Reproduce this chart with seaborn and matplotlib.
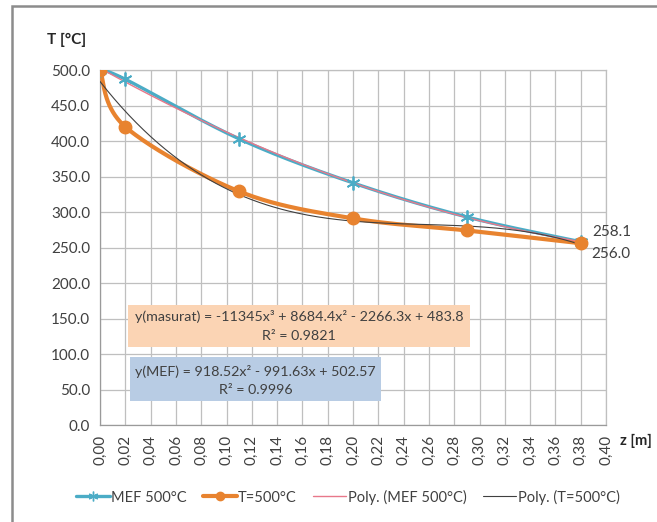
import numpy as np
import pandas as pd
import matplotlib
matplotlib.use("Agg")
import matplotlib.pyplot as plt
from matplotlib.patches import Rectangle
from matplotlib.lines import Line2D
import seaborn as sns

# Measured depths and temperatures
z = [0.00, 0.02, 0.11, 0.20, 0.29, 0.38]
t_mef = [500.0, 487.0, 403.0, 341.0, 293.0, 258.1]
t_meas = [500.0, 420.0, 329.0, 291.0, 274.0, 256.0]

# Polynomial trendline coefficients (highest power first)
coef_mef = [918.52, -991.63, 502.57]
coef_meas = [-11345.0, 8684.4, -2266.3, 483.8]

x_ticks = np.round(np.arange(0, 0.401, 0.02), 2)
y_ticks = np.arange(0, 501, 50)

C_MEF = "#4BACC6"
C_MEAS = "#E8832F"
C_POLY_MEF = "#E8788A"
C_POLY_MEAS = "#404040"
C_GRID = "#BFBFBF"
C_TEXT = "#404040"
FS = 11
FS_BOX = 10.3

sns.set_theme(style="white")
plt.rcParams["font.family"] = ["Lato", "DejaVu Sans"]


def smooth(xs, ys, n=40):
    """Bezier smoothing through the points (spreadsheet-style smoothed line)."""
    p = np.column_stack([xs, ys]).astype(float)
    ext = np.vstack([p[0], p, p[-1]])
    out = []
    t = np.linspace(0, 1, n)[:, None]
    for i in range(1, len(ext) - 2):
        p0, p1, p2, p3 = ext[i - 1], ext[i], ext[i + 1], ext[i + 2]
        c1 = p1 + (p2 - p0) / 6.0
        c2 = p2 - (p3 - p1) / 6.0
        seg = ((1 - t) ** 3) * p1 + 3 * ((1 - t) ** 2) * t * c1 + 3 * (1 - t) * t ** 2 * c2 + t ** 3 * p2
        out.append(seg if i == 1 else seg[1:])
    s = np.vstack(out)
    return s[:, 0], s[:, 1]


fig = plt.figure(figsize=(6.57, 5.22), dpi=100)
ax = fig.add_axes([0.1522, 0.1858, 0.7702, 0.6801])

# outer chart frame
fig.patches.append(Rectangle((12 / 657, -0.05), 1.2, 1 - 6 / 522 + 0.05, transform=fig.transFigure,
                             fill=False, edgecolor="#8C8C8C", linewidth=1.8, zorder=0))

# smoothed series lines
sx, sy = smooth(z, t_mef)
sns.lineplot(x=sx, y=sy, ax=ax, color=C_MEF, linewidth=2.4, sort=False, zorder=3)
sx2, sy2 = smooth(z, t_meas)
sns.lineplot(x=sx2, y=sy2, ax=ax, color=C_MEAS, linewidth=3.0, sort=False, zorder=4)

# polynomial trendlines
zz = np.linspace(z[0], z[-1], 200)
df_poly = pd.DataFrame({"z": zz,
                        "mef": np.polyval(coef_mef, zz),
                        "meas": np.polyval(coef_meas, zz)})
sns.lineplot(data=df_poly, x="z", y="mef", ax=ax, color=C_POLY_MEF, linewidth=1.0, zorder=5)
sns.lineplot(data=df_poly, x="z", y="meas", ax=ax, color=C_POLY_MEAS, linewidth=0.8, zorder=5)

# markers
ax.plot(z, t_mef, linestyle="none", marker=(6, 2, 0), markersize=10,
        markeredgecolor=C_MEF, markeredgewidth=1.3, zorder=6)
ax.plot(z, t_meas, linestyle="none", marker="o", markersize=9,
        color=C_MEAS, zorder=6)

# value labels at the last depth
ax.text(z[-1] + 0.0095, t_mef[-1] + 14, f"{t_mef[-1]:.1f}", fontsize=FS, color=C_TEXT,
        ha="left", va="center")
ax.text(z[-1] + 0.0085, t_meas[-1] - 15, f"{t_meas[-1]:.1f}", fontsize=FS, color=C_TEXT,
        ha="left", va="center")

# trendline equation boxes
ax.add_patch(Rectangle((0.0221, 110), 0.2704, 59, facecolor="#FBD4B4", edgecolor="none", zorder=7))
ax.text(0.1573, 153, "y(masurat) = -11345x³ + 8684.4x² - 2266.3x + 483.8", ha="center", va="center",
        fontsize=FS_BOX, color=C_TEXT, zorder=8)
ax.text(0.1573, 125, "R² = 0.9821", ha="center", va="center", fontsize=FS_BOX, color=C_TEXT, zorder=8)
ax.add_patch(Rectangle((0.0237, 34), 0.1985, 62, facecolor="#B8CCE4", edgecolor="none", zorder=7))
ax.text(0.1229, 76, "y(MEF) = 918.52x² - 991.63x + 502.57", ha="center", va="center",
        fontsize=FS_BOX, color=C_TEXT, zorder=8)
ax.text(0.1229, 49, "R² = 0.9996", ha="center", va="center", fontsize=FS_BOX, color=C_TEXT, zorder=8)

# axes styling
ax.set_xlim(0, 0.40)
ax.set_ylim(0, 500)
ax.set_xticks(x_ticks)
ax.set_xticklabels([f"{v:.2f}".replace(".", ",") for v in x_ticks], rotation=90, fontsize=FS,
                   color=C_TEXT)
ax.set_yticks(y_ticks)
ax.set_yticklabels([f"{v:.1f}" for v in y_ticks], fontsize=FS, color=C_TEXT)
ax.grid(True, color=C_GRID, linewidth=0.9)
ax.set_axisbelow(True)
for s in ax.spines.values():
    s.set_color(C_GRID)
    s.set_linewidth(0.9)
ax.spines["left"].set_color("#9A9A9A")
ax.spines["bottom"].set_color("#9A9A9A")
ax.tick_params(axis="both", which="major", length=4, width=0.9, color="#9A9A9A", direction="out",
               pad=3)
ax.set_xlabel("")
ax.set_ylabel("")

fig.text(47 / 657, 1 - 40 / 522, "T [°C]", fontsize=11, fontweight="bold", color="#262626",
         ha="left", va="center")
fig.text(620 / 657, 1 - 441 / 522, "z [m]", fontsize=10.5, fontweight="bold", color="#262626",
         ha="left", va="center")

handles = [
    Line2D([], [], color=C_MEF, linewidth=2.4, marker=(6, 2, 0), markersize=7, markeredgewidth=1.0),
    Line2D([], [], color=C_MEAS, linewidth=3.0, marker="o", markersize=6),
    Line2D([], [], color=C_POLY_MEF, linewidth=1.0),
    Line2D([], [], color=C_POLY_MEAS, linewidth=0.8),
]
labels = ["MEF 500°C", "T=500°C", "Poly. (MEF 500°C)", "Poly. (T=500°C)"]
fig.legend(handles, labels, loc="center", bbox_to_anchor=(348 / 657, 1 - 497 / 522), ncol=4,
           frameon=False, fontsize=10.5, handlelength=2.3, handletextpad=0.1, columnspacing=1.1,
           labelcolor=C_TEXT)

fig.savefig("out.png", dpi=100)
